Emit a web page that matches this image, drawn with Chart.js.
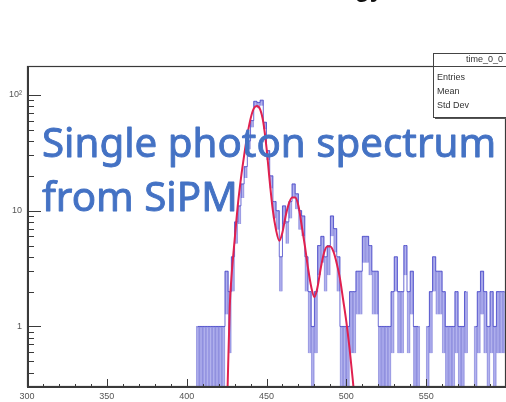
<!DOCTYPE html>
<html>
<head>
<meta charset="utf-8">
<script src="https://cdn.jsdelivr.net/npm/chart.js@4.4.1/dist/chart.umd.min.js"></script>
<style>
  html, body { margin: 0; padding: 0; background: #fff; }
  canvas { display: block; }
</style>
</head>
<body>
<canvas id="c" width="506" height="402"></canvas>
<script>
// Histogram of the SiPM time/charge spectrum: 2-unit bins starting at binStart
const binStart = 400;
const binWidth = 2;
const counts = [
  0, 0, 0, 1, 1, 1, 1, 1, 1, 1,      // 400-418
  1, 1, 3, 2, 4, 8, 11, 17, 24, 40,  // 420-438
  60, 88, 86, 90, 58, 33, 20, 12, 10, 4, // 440-458
  11, 8, 12, 17, 14, 10, 9, 4, 2, 1, // 460-478
  2, 5, 6, 4, 5, 9, 7, 4, 1, 1,      // 480-498
  1, 2, 2, 3, 3, 6, 6, 5, 3, 3,      // 500-518
  1, 1, 1, 1, 2, 4, 2, 2, 5, 2,      // 520-538
  3, 1, 1, 0, 0, 1, 2, 4, 3, 3,      // 540-558
  2, 1, 1, 1, 2, 1, 1, 2, 0, 0,      // 560-578
  1, 2, 3, 2, 1, 2, 1, 2, 2, 2       // 580-598
];

// Multi-peak fit curve, sampled along x
const fitX = [425.5, 427, 428, 430, 432, 434, 436, 438, 440, 442, 444, 446, 448, 450, 452, 454, 456, 458,
              460, 462, 464, 466, 468, 470, 472, 474, 476, 478, 480, 482, 484, 486, 488, 490,
              492, 494, 496, 498, 500, 502, 504, 505];
const fitY = [0.25, 1.5, 2.6, 5.5, 11, 19, 30, 45, 62, 76, 80, 75, 58, 35, 18, 10, 6.8, 5.5,
              6.5, 9, 11.5, 13, 13, 11, 7.5, 5, 3.2, 2.2, 1.8, 2.2, 3.2, 4.3, 4.9, 4.9,
              4.4, 3.5, 2.6, 1.7, 1.1, 0.65, 0.35, 0.25];

const xTickValues = [300, 350, 400, 450, 500, 550];
const yTickValues = [1, 10, 100];
const yTickLabels = ['1', '10', '10\u00B2'];

const statsTitle = 'time_0_0';
const statsRows = ['Entries', 'Mean', 'Std Dev'];
const headline = ['Single photon spectrum', 'from SiPM'];
const pageTitle = 'Energy';

// lowest value a shaded box may start from (below the visible log range)
const FLOOR = 0.01;

// bin centres and shaded boxes (count minus its Poisson error up to the count)
const centres = counts.map((c, i) => binStart + binWidth * i + binWidth / 2);
const boxData = counts.map((c, i) => ({
  x: centres[i],
  y: c > 0 ? [Math.max(c - Math.sqrt(c), FLOOR), c] : null
}));
const stepData = counts.map((c, i) => ({ x: centres[i], y: c > 0 ? c : null }));
const fitData = fitX.map((x, i) => ({ x: x, y: fitY[i] }));

const framePlugin = {
  id: 'frame',
  afterDraw(chart) {
    const { ctx, chartArea: a, scales: { x, y } } = chart;
    ctx.save();
    ctx.strokeStyle = '#3a3a3a';
    ctx.lineWidth = 1;
    ctx.beginPath();
    // x ticks drawn inside the frame
    for (let v = x.min; v <= x.max; v += 10) {
      const px = Math.round(x.getPixelForValue(v)) + 0.5;
      const len = v % 50 === 0 ? 8 : 3;
      ctx.moveTo(px, a.bottom);
      ctx.lineTo(px, a.bottom - len);
    }
    // logarithmic y ticks inside the frame
    [0.1, 1, 10, 100].forEach(d => {
      for (let k = 1; k <= 9; k++) {
        const v = d * k;
        if (v < y.min || v > y.max) continue;
        const py = Math.round(y.getPixelForValue(v)) + 0.5;
        const len = k === 1 ? 14 : 7;
        ctx.moveTo(a.left, py);
        ctx.lineTo(a.left + len, py);
      }
    });
    ctx.stroke();

    // frame
    ctx.lineWidth = 1.2;
    ctx.strokeRect(a.left + 0.5, a.top + 0.5, a.right - a.left - 1, a.bottom - a.top - 1);
    ctx.lineWidth = 2;
    ctx.beginPath();
    ctx.moveTo(a.left + 1, a.top);
    ctx.lineTo(a.left + 1, a.bottom);
    ctx.lineTo(a.right, a.bottom);
    ctx.stroke();
    ctx.restore();
  }
};

const statsPlugin = {
  id: 'statsBox',
  afterDraw(chart) {
    const { ctx } = chart;
    const bx = 433, by = 53, bw = 140, bh = 64;
    ctx.save();
    ctx.fillStyle = '#555';
    ctx.fillRect(bx + 2, by + 2, bw, bh);
    ctx.fillStyle = '#fff';
    ctx.fillRect(bx, by, bw, bh);
    ctx.strokeStyle = '#444';
    ctx.lineWidth = 1;
    ctx.strokeRect(bx + 0.5, by + 0.5, bw, bh);
    ctx.beginPath();
    ctx.moveTo(bx, by + 13.5);
    ctx.lineTo(bx + bw, by + 13.5);
    ctx.stroke();
    ctx.fillStyle = '#333';
    ctx.font = '9px "Liberation Sans"';
    ctx.textBaseline = 'middle';
    ctx.fillText(statsTitle, 466, by + 7);
    statsRows.forEach((t, i) => ctx.fillText(t, bx + 4, by + 25 + i * 14));
    ctx.restore();
  }
};

const textPlugin = {
  id: 'headline',
  afterDraw(chart) {
    const { ctx } = chart;
    ctx.save();
    // partially visible page title above the chart
    ctx.fillStyle = '#111';
    ctx.font = 'bold 24px "Liberation Sans"';
    ctx.textBaseline = 'alphabetic';
    ctx.textAlign = 'right';
    ctx.fillText(pageTitle, 383, -3);

    // overlay caption, sized so the first line spans the plot
    ctx.textAlign = 'left';
    ctx.fillStyle = '#4472C4';
    ctx.strokeStyle = '#4472C4';
    ctx.lineWidth = 0.9;
    ctx.lineJoin = 'round';
    const base = 38;
    ctx.font = base + 'px "Noto Sans"';
    const w = ctx.measureText(headline[0]).width;
    const size = base * 454 / w;
    ctx.font = size.toFixed(1) + 'px "Noto Sans"';
    [[headline[0], 157], [headline[1], 211]].forEach(([t, yy]) => {
      ctx.fillText(t, 42, yy);
      ctx.strokeText(t, 42, yy);
    });
    ctx.restore();
  }
};

new Chart(document.getElementById('c'), {
  data: {
    datasets: [
      {
        type: 'line',
        data: fitData,
        borderColor: '#e0204f',
        borderWidth: 2,
        pointRadius: 0,
        cubicInterpolationMode: 'monotone',
        order: 0
      },
      {
        type: 'line',
        data: stepData,
        stepped: 'middle',
        borderColor: 'rgba(70,70,200,0.8)',
        borderWidth: 1,
        pointRadius: 0,
        spanGaps: false,
        order: 1
      },
      {
        type: 'bar',
        data: boxData,
        backgroundColor: 'rgba(130,130,230,0.4)',
        borderColor: 'rgba(85,85,205,0.55)',
        borderWidth: 1,
        barPercentage: 1,
        categoryPercentage: 1,
        grouped: false,
        order: 2
      }
    ]
  },
  options: {
    responsive: false,
    animation: false,
    devicePixelRatio: 1,
    layout: { padding: { top: 66, left: 0, right: 0, bottom: 0 } },
    plugins: { legend: { display: false }, tooltip: { enabled: false }, title: { display: false } },
    scales: {
      x: {
        type: 'linear',
        offset: false,
        min: 300,
        max: 600,
        afterBuildTicks: s => { s.ticks = xTickValues.map(v => ({ value: v })); },
        ticks: { color: '#555', font: { family: 'Liberation Sans', size: 9 }, padding: 4, maxRotation: 0, autoSkip: false },
        grid: { display: false, drawTicks: false, offset: false },
        border: { display: false },
        afterFit: s => { s.height = 15; s.paddingLeft = 0; s.paddingRight = 0; }
      },
      y: {
        type: 'logarithmic',
        min: 0.3116,
        max: 177.4,
        afterBuildTicks: s => { s.ticks = yTickValues.map(v => ({ value: v })); },
        ticks: {
          callback: v => { const i = yTickValues.indexOf(v); return i >= 0 ? yTickLabels[i] : ''; },
          color: '#555', font: { family: 'Liberation Sans', size: 9 }, padding: 5, autoSkip: false
        },
        grid: { display: false, drawTicks: false },
        border: { display: false },
        afterFit: s => { s.width = 27; s.paddingTop = 0; s.paddingBottom = 0; }
      }
    }
  },
  plugins: [framePlugin, statsPlugin, textPlugin]
});
</script>
</body>
</html>
